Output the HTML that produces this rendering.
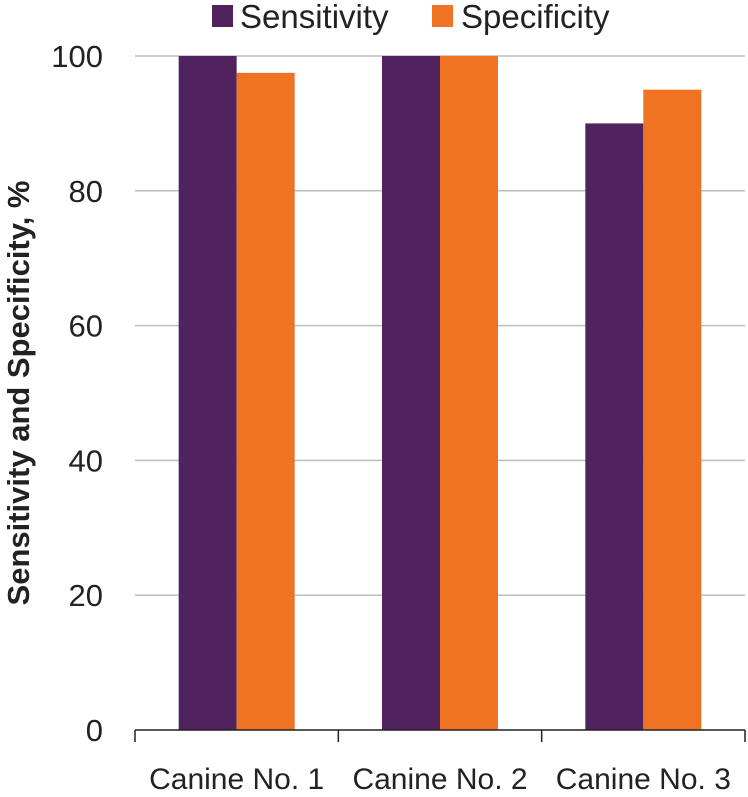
<!DOCTYPE html>
<html><head><meta charset="utf-8"><style>
html,body{margin:0;padding:0;background:#fff;}
svg{display:block;font-family:"Liberation Sans",Arial,sans-serif;}
</style></head><body>
<svg id="chart" width="748" height="797" viewBox="0 0 748 797"></svg>
<script>
const categories = ["Canine No. 1","Canine No. 2","Canine No. 3"];
const sensitivity = [100, 100, 90];
const specificity = [97.5, 100, 95];
const yTicks = [0, 20, 40, 60, 80, 100];

const NS = "http://www.w3.org/2000/svg";
const svg = document.getElementById("chart");
const X0 = 135, X1 = 745, Y0 = 730, Y1 = 56;
const yMax = 100;
const yScale = v => Y0 - (v / yMax) * (Y0 - Y1);
const bandW = (X1 - X0) / categories.length;
const xBand = i => X0 + i * bandW;
const barW = 58;

function mk(tag, attrs, text) {
  const e = document.createElementNS(NS, tag);
  for (const k in attrs) e.setAttribute(k, attrs[k]);
  if (text !== undefined) e.textContent = text;
  svg.appendChild(e);
  return e;
}

yTicks.forEach(t => {
  const y = yScale(t);
  if (t > 0) {
    const g = mk("line", {x1: X0, x2: X1, y1: y, y2: y, stroke: "#bdbdbd", "stroke-width": 1.5});
    
    
  }
  const l = mk("text", {x: 103, y: y + 11, "text-anchor": "end", "font-size": 31, fill: "#222"}, t);
  
  
});

categories.forEach((c, i) => {
  const cx = xBand(i) + bandW / 2;
  const b1 = mk("rect", {x: cx - barW, y: yScale(sensitivity[i]), width: barW, height: Y0 - yScale(sensitivity[i]), fill: "#50235e"});
  
  
  const b2 = mk("rect", {x: cx, y: yScale(specificity[i]), width: barW, height: Y0 - yScale(specificity[i]), fill: "#f07223"});
  
  
  const l = mk("text", {x: cx, y: 789, "text-anchor": "middle", "font-size": 30, fill: "#222"}, c);
  
  
});

const ax = mk("line", {x1: X0, x2: X1, y1: Y0, y2: Y0, stroke: "#222", "stroke-width": 1.5});


for (let i = 0; i <= categories.length; i++) {
  const x = xBand(i);
  const t = mk("line", {x1: x, x2: x, y1: Y0, y2: Y0 + 12, stroke: "#222", "stroke-width": 1.5});
  
  
}

const yt = mk("text", {x: 0, y: 0, transform: "translate(29,393) rotate(-90)", "text-anchor": "middle", "font-size": 31, "font-weight": "bold", fill: "#222"}, "Sensitivity and Specificity, %");



const lg1 = mk("rect", {x: 212, y: 5, width: 21, height: 22, fill: "#50235e"});


const lt1 = mk("text", {x: 240, y: 28, "font-size": 33, fill: "#222"}, "Sensitivity");


const lg2 = mk("rect", {x: 432, y: 5, width: 21, height: 22, fill: "#f07223"});


const lt2 = mk("text", {x: 461, y: 28, "font-size": 33, fill: "#222"}, "Specificity");


</script>
</body></html>
